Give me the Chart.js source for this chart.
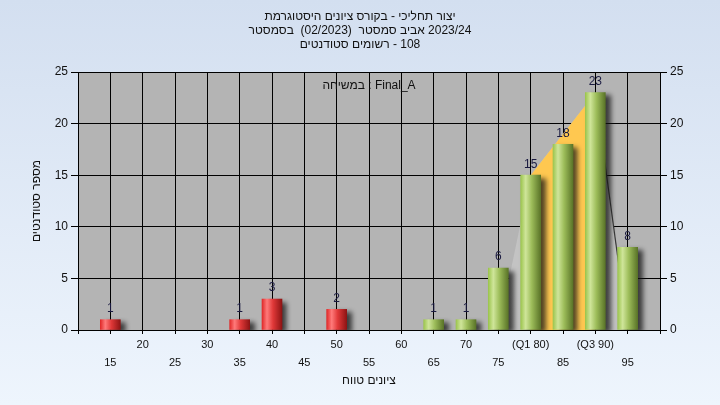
<!DOCTYPE html>
<html>
<head>
<meta charset="utf-8">
<script src="https://cdn.jsdelivr.net/npm/chart.js@4.4.1/dist/chart.umd.min.js"></script>
<style>
  html, body { margin: 0; padding: 0; }
  body { width: 720px; height: 405px; background: linear-gradient(#d3dff0, #eef5fd); }
  canvas { display: block; }
</style>
</head>
<body>
<canvas id="grafico" width="720" height="405"></canvas>
<script>
const grafico = document.querySelector("#grafico")

// dados do histograma
const ciunim = [15, 35, 40, 50, 65, 70, 75, 80, 85, 90, 95]
const studentim = [1, 1, 3, 2, 1, 1, 6, 15, 18, 23, 8]
const tziunOver = 55

// forma Q1-Q3
const tzuraX = [75, 80, 90, 95]
const tzuraY = [0, 15, 23, 0]
const rivonX = [80, 90]
const rivonY = [15, 23]

// rotulos do eixo x
const ticksX = [15, 20, 25, 30, 35, 40, 45, 50, 55, 60, 65, 70, 75, 80, 85, 90, 95]
const ticksTexto = ['15', '20', '25', '30', '35', '40', '45', '50', '55', '60', '65', '70', '75', '(Q1 80)', '85', '(Q3 90)', '95']

// textos, palavra por palavra na ordem em que aparecem (esquerda -> direita)
const tituloLinhas = [
    ['היסטוגרמת', 'ציונים', 'בקורס', '-', 'תחליכי', 'יצור'],
    ['בסמסטר', '', '(02/2023)', '', 'סמסטר', 'אביב', '2023/24'],
    ['סטודנטים', 'רשומים', '-', '108']
]
const subtitulo = ['במשיחה', ':', 'Final_A']
const tituloX = ['טווח', 'ציונים']
const tituloY = ['סטודנטים', 'מספר']

const fonte = "'Liberation Sans', Arial, sans-serif"

const ponto = (xs, ys) => xs.map((x, i) => ({ x: x, y: ys[i] }))

// escreve as palavras centradas em (cx, cy)
const escrever = function (ctx, palavras, cx, cy) {
    const espaco = ctx.measureText(' ').width
    const larguras = palavras.map(p => ctx.measureText(p).width)
    const total = larguras.reduce((a, b) => a + b, 0) + espaco * (palavras.length - 1)
    let x = cx - total / 2
    palavras.forEach((p, i) => {
        if (p) ctx.fillText(p, x, cy)
        x += larguras[i] + espaco
    })
}

// cor em gradiente de cilindro
const corBarra = function (c) {
    const chart = c.chart
    const xs = chart.scales.x
    const vermelho = c.raw && c.raw.x < tziunOver
    if (c.type !== 'data' || !xs) return vermelho ? '#d83030' : '#9dbd5a'
    const cx = xs.getPixelForValue(c.raw.x)
    if (!isFinite(cx)) return vermelho ? '#d83030' : '#9dbd5a'
    const g = chart.ctx.createLinearGradient(cx - 10, 0, cx + 10, 0)
    if (vermelho) {
        g.addColorStop(0, '#e02a2a')
        g.addColorStop(0.25, '#ff7a7a')
        g.addColorStop(0.55, '#e03838')
        g.addColorStop(1, '#8e1414')
    } else {
        g.addColorStop(0, '#9cc54e')
        g.addColorStop(0.25, '#cfe59a')
        g.addColorStop(0.55, '#9dbd5a')
        g.addColorStop(1, '#5a7428')
    }
    return g
}

const fundoPlot = {
    id: 'fundoPlot',
    beforeDraw(chart) {
        const a = chart.chartArea
        const ctx = chart.ctx
        ctx.save()
        ctx.fillStyle = '#b4b4b4'
        ctx.fillRect(a.left, a.top, a.right - a.left, a.bottom - a.top)
        ctx.restore()
    }
}

const sombra = {
    id: 'sombra',
    beforeDatasetDraw(chart, args) {
        if (args.meta.type !== 'bar') return
        const ctx = chart.ctx
        ctx.save()
        ctx.shadowColor = 'rgba(20,20,20,0.75)'
        ctx.shadowBlur = 5
        ctx.shadowOffsetX = 5
        ctx.shadowOffsetY = 3
    },
    afterDatasetDraw(chart, args) {
        if (args.meta.type !== 'bar') return
        chart.ctx.restore()
    }
}

const textos = {
    id: 'textos',
    afterDraw(chart) {
        const ctx = chart.ctx
        const a = chart.chartArea
        const meioX = (a.left + a.right) / 2
        ctx.save()
        ctx.direction = 'ltr'
        ctx.textAlign = 'left'
        ctx.textBaseline = 'middle'
        ctx.font = '12px ' + fonte

        // numeros em cima das barras
        ctx.fillStyle = '#1a1a40'
        chart.getDatasetMeta(0).data.forEach((bar, i) => {
            const s = String(studentim[i])
            ctx.fillText(s, bar.x - ctx.measureText(s).width / 2, bar.y - 11)
        })

        ctx.fillStyle = '#111'
        tituloLinhas.forEach((linha, i) => escrever(ctx, linha, 360, 17 + i * 14))
        escrever(ctx, subtitulo, meioX, a.top + 14)
        escrever(ctx, tituloX, meioX, 381)

        ctx.translate(37, (a.top + a.bottom) / 2)
        ctx.rotate(-Math.PI / 2)
        escrever(ctx, tituloY, 0, 0)
        ctx.restore()
    }
}

new Chart(grafico, {
    data: {
        datasets: [{
            type: 'bar',
            label: 'סטודנטים',
            data: ponto(ciunim, studentim),
            backgroundColor: corBarra,
            borderWidth: 0,
            barThickness: 20,
            order: 0
        }, {
            type: 'line',
            data: ponto(rivonX, rivonY),
            fill: 'origin',
            backgroundColor: '#ffc850',
            borderWidth: 0,
            borderColor: 'rgba(0,0,0,0)',
            pointRadius: 0,
            tension: 0,
            order: 1
        }, {
            type: 'line',
            data: ponto(tzuraX, tzuraY),
            fill: 'origin',
            backgroundColor: '#c3c3c3',
            borderWidth: 1.2,
            borderColor: 'rgba(0,0,0,0)',
            segment: {
                borderColor: s => s.p0DataIndex === 2 ? '#3a3a3a' : 'rgba(0,0,0,0)'
            },
            pointRadius: 0,
            tension: 0,
            order: 2
        }]
    },
    options: {
        responsive: false,
        animation: false,
        events: [],
        layout: { padding: { top: 72 } },
        plugins: {
            legend: { display: false },
            tooltip: { enabled: false },
            title: { display: false }
        },
        scales: {
            x: {
                type: 'linear',
                min: 10,
                max: 100,
                offset: false,
                afterFit: s => { s.height = 75 },
                grid: { color: '#000', tickLength: 4, tickColor: '#000', offset: false },
                border: { color: '#000' },
                afterBuildTicks: s => { s.ticks = [10].concat(ticksX, [100]).map(v => ({ value: v })) },
                ticks: {
                    autoSkip: false,
                    maxRotation: 0,
                    padding: 2,
                    color: '#111',
                    font: { family: fonte, size: 11, lineHeight: '18px' },
                    callback: v => {
                        const i = ticksX.indexOf(v)
                        if (i < 0) return ''
                        return v % 10 === 0 ? [ticksTexto[i], ''] : ['', ticksTexto[i]]
                    }
                }
            },
            y: {
                position: 'left',
                min: 0,
                max: 25,
                afterFit: s => { s.width = 78 },
                grid: { color: '#000', tickLength: 7, tickColor: '#000' },
                border: { color: '#000' },
                ticks: { stepSize: 5, padding: 3, color: '#111', font: { family: fonte, size: 12 } }
            },
            y2: {
                position: 'right',
                display: true,
                min: 0,
                max: 25,
                afterFit: s => { s.width = 60 },
                grid: { drawOnChartArea: false, color: '#000', tickLength: 7, tickColor: '#000' },
                border: { color: '#000' },
                ticks: { stepSize: 5, padding: 3, color: '#111', font: { family: fonte, size: 12 } }
            }
        }
    },
    plugins: [fundoPlot, sombra, textos]
})
</script>
</body>
</html>
